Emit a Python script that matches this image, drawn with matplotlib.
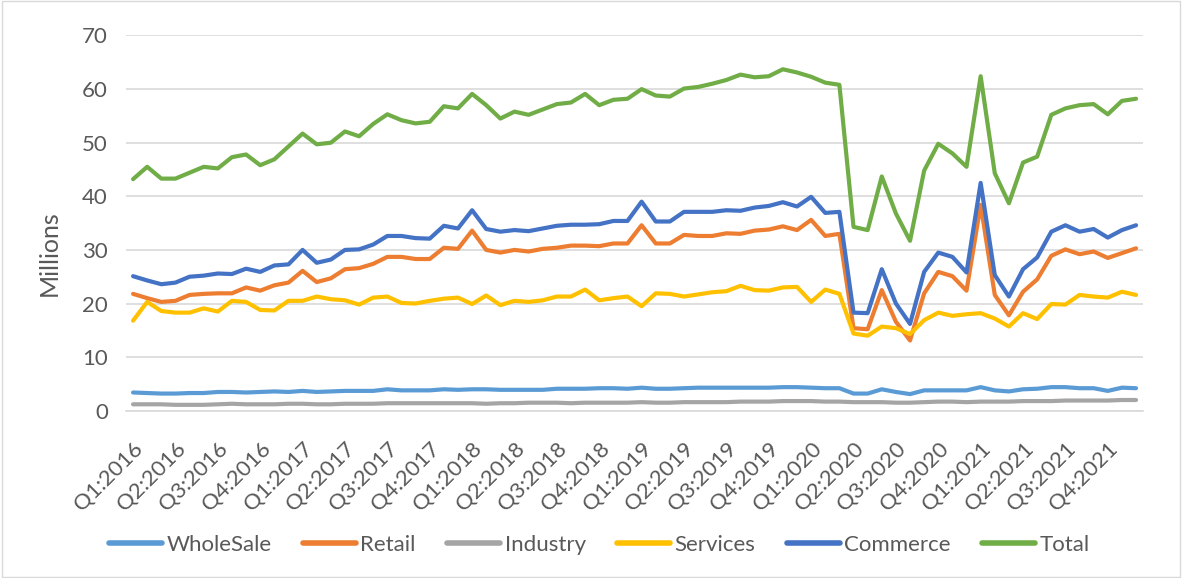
"""Monthly sales series 2016-2021 line chart (WholeSale ... Total)."""

import matplotlib

matplotlib.use("Agg")
import matplotlib.pyplot as plt
import numpy as np
from matplotlib.patches import Rectangle


QUARTER_LABELS = [
    "Q1:2016", "Q2:2016", "Q3:2016", "Q4:2016",
    "Q1:2017", "Q2:2017", "Q3:2017", "Q4:2017",
    "Q1:2018", "Q2:2018", "Q3:2018", "Q4:2018",
    "Q1:2019", "Q2:2019", "Q3:2019", "Q4:2019",
    "Q1:2020", "Q2:2020", "Q3:2020", "Q4:2020",
    "Q1:2021", "Q2:2021", "Q3:2021", "Q4:2021",
]

# monthly values, Millions (Jan 2016 .. Dec 2021)
WHOLESALE = [
    3.4, 3.3, 3.2, 3.2, 3.3, 3.3, 3.5, 3.5, 3.4, 3.5, 3.6, 3.5,
    3.7, 3.5, 3.6, 3.7, 3.7, 3.7, 4.0, 3.8, 3.8, 3.8, 4.0, 3.9,
    4.0, 4.0, 3.9, 3.9, 3.9, 3.9, 4.1, 4.1, 4.1, 4.2, 4.2, 4.1,
    4.3, 4.1, 4.1, 4.2, 4.3, 4.3, 4.3, 4.3, 4.3, 4.3, 4.4, 4.4,
    4.3, 4.2, 4.2, 3.2, 3.2, 4.0, 3.5, 3.1, 3.8, 3.8, 3.8, 3.8,
    4.4, 3.8, 3.6, 4.0, 4.1, 4.4, 4.4, 4.2, 4.2, 3.7, 4.3, 4.2,
]
RETAIL = [
    21.8, 21.0, 20.3, 20.5, 21.6, 21.8, 21.9, 21.9, 23.0, 22.4, 23.4, 23.9,
    26.1, 24.0, 24.7, 26.4, 26.6, 27.4, 28.7, 28.7, 28.3, 28.3, 30.4, 30.2,
    33.6, 30.0, 29.5, 30.0, 29.7, 30.2, 30.4, 30.8, 30.8, 30.7, 31.2, 31.2,
    34.6, 31.2, 31.2, 32.8, 32.6, 32.6, 33.1, 33.0, 33.6, 33.8, 34.4, 33.7,
    35.6, 32.6, 33.0, 15.4, 15.2, 22.5, 16.6, 13.1, 21.9, 25.9, 25.1, 22.4,
    38.4, 21.6, 17.8, 22.2, 24.5, 28.9, 30.1, 29.2, 29.7, 28.5, 29.4, 30.3,
]
INDUSTRY = [
    1.2, 1.2, 1.2, 1.1, 1.1, 1.1, 1.2, 1.3, 1.2, 1.2, 1.2, 1.3,
    1.3, 1.2, 1.2, 1.3, 1.3, 1.3, 1.4, 1.4, 1.4, 1.4, 1.4, 1.4,
    1.4, 1.3, 1.4, 1.4, 1.5, 1.5, 1.5, 1.4, 1.5, 1.5, 1.5, 1.5,
    1.6, 1.5, 1.5, 1.6, 1.6, 1.6, 1.6, 1.7, 1.7, 1.7, 1.8, 1.8,
    1.8, 1.7, 1.7, 1.6, 1.6, 1.6, 1.5, 1.5, 1.6, 1.7, 1.7, 1.6,
    1.7, 1.7, 1.7, 1.8, 1.8, 1.8, 1.9, 1.9, 1.9, 1.9, 2.0, 2.0,
]
SERVICES = [
    16.8, 20.3, 18.6, 18.3, 18.3, 19.1, 18.5, 20.5, 20.3, 18.8, 18.7, 20.5,
    20.5, 21.3, 20.8, 20.6, 19.8, 21.1, 21.3, 20.1, 20.0, 20.5, 20.9, 21.1,
    19.9, 21.5, 19.7, 20.5, 20.3, 20.6, 21.3, 21.3, 22.6, 20.6, 21.0, 21.3,
    19.5, 21.9, 21.8, 21.3, 21.7, 22.1, 22.3, 23.3, 22.5, 22.4, 23.0, 23.1,
    20.3, 22.6, 21.8, 14.4, 14.0, 15.7, 15.4, 14.3, 16.9, 18.3, 17.7, 18.0,
    18.2, 17.2, 15.7, 18.2, 17.1, 19.9, 19.8, 21.6, 21.3, 21.1, 22.2, 21.6,
]
COMMERCE = [
    25.1, 24.3, 23.6, 23.9, 25.0, 25.2, 25.6, 25.5, 26.5, 25.9, 27.1, 27.3,
    30.0, 27.6, 28.2, 30.0, 30.1, 31.0, 32.6, 32.6, 32.2, 32.1, 34.5, 34.0,
    37.4, 33.9, 33.4, 33.7, 33.5, 34.0, 34.5, 34.7, 34.7, 34.8, 35.4, 35.4,
    39.0, 35.3, 35.3, 37.1, 37.1, 37.1, 37.4, 37.3, 37.9, 38.2, 38.9, 38.1,
    39.9, 36.9, 37.1, 18.3, 18.2, 26.4, 20.0, 16.2, 25.9, 29.5, 28.7, 25.8,
    42.5, 25.3, 21.3, 26.4, 28.6, 33.4, 34.6, 33.4, 33.9, 32.3, 33.7, 34.6,
]
TOTAL = [
    43.2, 45.5, 43.3, 43.3, 44.4, 45.5, 45.2, 47.3, 47.8, 45.8, 46.9, 49.3,
    51.7, 49.7, 50.0, 52.1, 51.2, 53.5, 55.3, 54.2, 53.6, 53.9, 56.8, 56.4,
    59.1, 57.0, 54.5, 55.8, 55.2, 56.2, 57.2, 57.5, 59.1, 57.0, 58.0, 58.2,
    60.0, 58.8, 58.6, 60.1, 60.4, 61.0, 61.7, 62.7, 62.2, 62.4, 63.7, 63.1,
    62.3, 61.2, 60.8, 34.3, 33.7, 43.7, 36.8, 31.7, 44.8, 49.8, 48.0, 45.5,
    62.4, 44.3, 38.7, 46.3, 47.4, 55.2, 56.4, 57.0, 57.2, 55.3, 57.8, 58.2,
]

SERIES_NAMES = ["WholeSale", "Retail", "Industry", "Services", "Commerce", "Total"]
SERIES_COLORS = ["#5B9BD5", "#ED7D31", "#A5A5A5", "#FFC000", "#4472C4", "#70AD47"]

TEXT_COLOR = "#595959"
GRID_COLOR = "#D9D9D9"


def main() -> None:
    plt.rcParams["font.family"] = ["Lato", "DejaVu Sans"]

    fig = plt.figure(figsize=(11.82, 5.78), dpi=100)
    ax = fig.add_axes([0.1066, 0.2894, 0.8605, 0.6492])

    series = [WHOLESALE, RETAIL, INDUSTRY, SERVICES, COMMERCE, TOTAL]
    x = np.arange(len(TOTAL))
    for values, name, color in zip(series, SERIES_NAMES, SERIES_COLORS):
        ax.plot(x, values, color=color, linewidth=3.0, label=name,
                solid_joinstyle="round", solid_capstyle="round")

    ax.set_xlim(-0.5, len(TOTAL) - 0.5)
    ax.set_ylim(0, 70)
    ax.set_yticks(range(0, 71, 10))
    ax.set_xticks(x[::3])
    ax.set_xticklabels(QUARTER_LABELS, rotation=45, ha="right", va="top",
                       rotation_mode="anchor")
    ax.tick_params(axis="both", length=0, labelsize=16, colors=TEXT_COLOR)
    ax.tick_params(axis="x", pad=20)
    ax.tick_params(axis="y", pad=13)

    ax.grid(axis="y", color=GRID_COLOR, linewidth=1.2)
    ax.set_axisbelow(True)
    for side in ("top", "right", "left"):
        ax.spines[side].set_visible(False)
    ax.spines["bottom"].set_color(GRID_COLOR)
    ax.spines["bottom"].set_linewidth(1.2)

    ax.set_ylabel("Millions", fontsize=18, color=TEXT_COLOR, va="center")
    ax.yaxis.set_label_coords(-0.0757, 0.42)

    fig.legend(loc="center", bbox_to_anchor=(0.507, 0.057), ncol=6, frameon=False,
               fontsize=16, labelcolor=TEXT_COLOR, handlelength=2.4,
               handletextpad=0.2, columnspacing=1.4, handleheight=0.7)
    for line in fig.legends[0].get_lines():
        line.set_linewidth(4.0)

    fig.patches.append(Rectangle((0.002, 0.002), 0.996, 0.996, transform=fig.transFigure,
                                 fill=False, edgecolor=GRID_COLOR, linewidth=1.0))

    fig.savefig("out.png", dpi=100)
    plt.close(fig)


if __name__ == "__main__":
    main()
